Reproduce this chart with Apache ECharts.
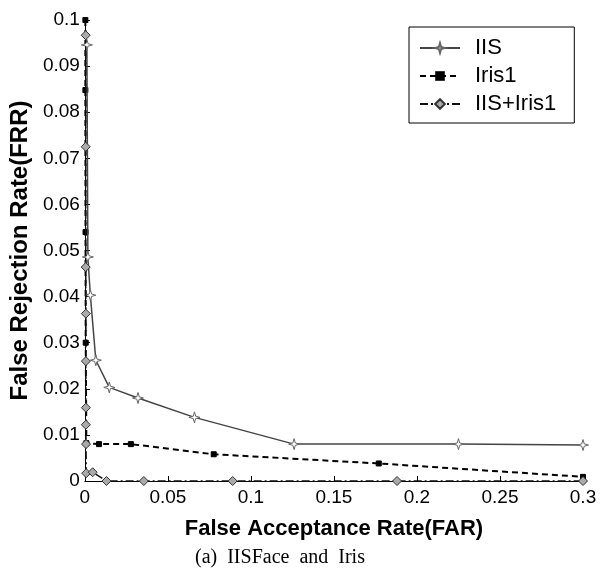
<!DOCTYPE html>
<html>
<head>
<meta charset="utf-8">
<script src="https://cdn.jsdelivr.net/npm/echarts@6/dist/echarts.min.js"></script>
<style>
html,body{margin:0;padding:0;background:#fff;}
#chart{width:603px;height:579px;}
</style>
</head>
<body>
<div id="chart"></div>
<script>
// ---- data ----
const seriesNames = ['IIS', 'Iris1', 'IIS+Iris1'];

const iisX = [0.0012, 0.0018, 0.0033, 0.0066, 0.0147, 0.032, 0.066, 0.126, 0.225, 0.3];
const iisY = [0.0946, 0.0486, 0.0403, 0.0262, 0.0203, 0.018, 0.0138, 0.0080, 0.0080, 0.0078];

const iris1X = [0.0003, 0.0003, 0.0004, 0.0005, 0.0009, 0.0085, 0.0277, 0.0776, 0.177, 0.3];
const iris1Y = [0.1, 0.0848, 0.054, 0.030, 0.0082, 0.0080, 0.0080, 0.0058, 0.0038, 0.0009];

const comboX = [0.0005, 0.0005, 0.0005, 0.0006, 0.0006, 0.0006, 0.0006, 0.0007, 0.0008, 0.0047, 0.013, 0.0355, 0.089, 0.188, 0.3];
const comboY = [0.0967, 0.0725, 0.0464, 0.0363, 0.026, 0.0159, 0.0122, 0.008, 0.0017, 0.0019, 0, 0, 0, 0, 0];

const xTitle = 'False Acceptance Rate(FAR)';
const yTitle = 'False Rejection Rate(FRR)';
const caption = '(a)  IISFace  and  Iris';

function pairs(xs, ys) { return xs.map((x, i) => [x, ys[i]]); }

const FONT = '"Liberation Sans", Arial, sans-serif';
const starPath = 'path://M0,-10 L2.2,-2.2 L10,0 L2.2,2.2 L0,10 L-2.2,2.2 L-10,0 L-2.2,-2.2 Z';

const chart = echarts.init(document.getElementById('chart'), null, {renderer: 'canvas'});
chart.setOption({
  animation: false,
  backgroundColor: '#fff',
  grid: {left: 84, right: 20, top: 20, bottom: 98, containLabel: false},
  legend: {
    orient: 'vertical',
    left: 409, top: 27,
    padding: [10, 18, 8, 10],
    itemWidth: 40, itemHeight: 12, itemGap: 6,
    backgroundColor: '#fff',
    borderColor: '#000', borderWidth: 1,
    textStyle: {fontFamily: FONT, fontSize: 22, color: '#000', padding: [0, 0, 0, 10]},
    data: seriesNames
  },
  xAxis: {
    type: 'value', min: 0, max: 0.3, interval: 0.05,
    name: xTitle, nameLocation: 'middle', nameGap: 37,
    nameTextStyle: {fontFamily: FONT, fontSize: 22, fontWeight: 'bold', color: '#000'},
    axisLine: {onZero: false, lineStyle: {color: '#000', width: 1}},
    axisTick: {inside: true, length: 5, lineStyle: {color: '#000'}},
    axisLabel: {fontFamily: FONT, fontSize: 19, color: '#000', margin: 7},
    splitLine: {show: false}
  },
  yAxis: {
    type: 'value', min: 0, max: 0.1, interval: 0.01,
    name: yTitle, nameLocation: 'middle', nameGap: 45,
    nameTextStyle: {fontFamily: FONT, fontSize: 24, fontWeight: 'bold', color: '#000'},
    axisLine: {show: true, lineStyle: {color: '#000', width: 1}},
    axisTick: {show: true, inside: true, length: 5, lineStyle: {color: '#000'}},
    axisLabel: {fontFamily: FONT, fontSize: 19, color: '#000', margin: 5},
    splitLine: {show: false}
  },
  series: [
    {
      name: seriesNames[0], type: 'line', data: pairs(iisX, iisY),
      symbol: starPath, symbolSize: 11,
      itemStyle: {color: '#fff', borderColor: '#666', borderWidth: 1},
      lineStyle: {color: '#444', width: 1.5, type: 'solid'},
      z: 3
    },
    {
      name: seriesNames[1], type: 'line', data: pairs(iris1X, iris1Y),
      symbol: 'rect', symbolSize: 5,
      itemStyle: {color: '#000', borderColor: '#000'},
      lineStyle: {color: '#000', width: 2, type: [6, 4]},
      z: 2
    },
    {
      name: seriesNames[2], type: 'line', data: pairs(comboX, comboY),
      symbol: 'diamond', symbolSize: 9,
      itemStyle: {color: '#aaa', borderColor: '#333', borderWidth: 1},
      lineStyle: {color: '#111', width: 1.5, type: [8, 3, 2, 3]},
      z: 4
    }
  ],
  graphic: [
    {
      type: 'text', left: 195, top: 548,
      style: {text: caption, fontFamily: '"Liberation Serif", "Times New Roman", serif', fontSize: 20, fill: '#000'}
    }
  ]
});
</script>
</body>
</html>
